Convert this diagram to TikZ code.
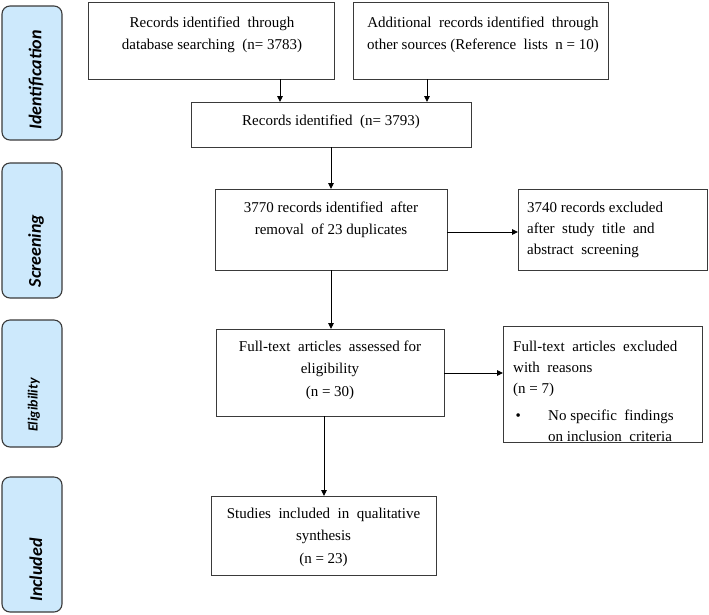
\documentclass[tikz,border=0pt]{standalone}
\usepackage{fontspec}
\setmainfont{Liberation Serif}
\newfontfamily\sidefont{Carlito}
\usetikzlibrary{arrows.meta}
\definecolor{sideblue}{HTML}{CDE9FC}
\definecolor{edgegray}{HTML}{3A3A3A}
\begin{document}
\begin{tikzpicture}[x=1pt,y=-1pt,
 box/.style={draw=edgegray, line width=1pt, inner sep=0pt, outer sep=0pt},
 sidebox/.style={draw=edgegray, line width=1.1pt, fill=sideblue, rounded corners=8pt, inner sep=0pt, outer sep=0pt},
 sidetext/.style={font=\sidefont\bfseries\itshape\fontsize{18}{20}\selectfont, rotate=90, inner sep=0pt},
 txt/.style={font=\fontsize{15}{22.5}\selectfont, inner sep=0pt, align=center},
 ltxt/.style={font=\fontsize{15}{21}\selectfont, inner sep=0pt, align=left},
 arr/.style={draw=black, line width=0.9pt, -{Triangle[length=6pt,width=5.5pt]}}]
\useasboundingbox (0,0) rectangle (709,614);

% side labels
\node[sidebox, minimum width=60pt, minimum height=134pt] (s1) at (32,73) {};
\node[sidetext] (s1t) at (36,80) {Identification};
\node[sidebox, minimum width=60pt, minimum height=135pt] (s2) at (32,230.5) {};
\node[sidetext] (s2t) at (36,251) {Screening};
\node[sidebox, minimum width=60pt, minimum height=127pt] (s3) at (32,383.5) {};
\node[sidetext, font=\sidefont\bfseries\itshape\fontsize{14}{16}\selectfont] (s3t) at (34,405) {Eligibility};
\node[sidebox, minimum width=60pt, minimum height=135pt] (s4) at (32,544.5) {};
\node[sidetext] (s4t) at (36,570) {Included};

% boxes
\node[box, minimum width=246pt, minimum height=77pt] (b1) at (211,40.5) {};
\node[txt] (t1) at (212,35) {Records identified \ through\\database searching \ (n= 3783)};
\node[box, minimum width=255pt, minimum height=77pt] (b2) at (480.5,40.5) {};
\node[txt] (t2) at (483,35) {Additional \ records identified \ through\\other sources (Reference \ lists \ n = 10)};
\node[box, minimum width=280pt, minimum height=45pt] (b3) at (331,124.5) {};
\node[txt] (t3) at (331,122) {Records identified \ (n= 3793)};
\node[box, minimum width=232pt, minimum height=81pt] (b4) at (331,229.5) {};
\node[txt] (t4) at (331,220) {3770 records identified \ after\\removal \ of 23 duplicates};
\node[box, minimum width=189pt, minimum height=81pt] (b5) at (612.5,229.5) {};
\node[ltxt, anchor=west] (t5) at (527,230) {3740 records excluded\\after \ study \ title \ and\\abstract \ screening};
\node[box, minimum width=228pt, minimum height=87pt] (b6) at (330,372.5) {};
\node[txt] (t6) at (330,370) {Full-text \ articles \ assessed for\\eligibility\\(n = 30)};
\node[box, minimum width=199pt, minimum height=116pt] (b7) at (602.5,384) {};
\node[ltxt, anchor=west] (t7) at (513,391.5) {Full-text \ articles \ excluded\\with \ reasons\\(n = 7)\\[6pt]\makebox[35pt][l]{\,•}No specific \ findings\\\hspace*{35pt}on inclusion \ criteria};
\node[box, minimum width=225pt, minimum height=79pt] (b8) at (323.5,535.5) {};
\node[txt] (t8) at (323.5,537) {Studies \ included \ in \ qualitative\\synthesis\\(n = 23)};

% connector positions
\coordinate (xa) at (280,0);
\coordinate (xb) at (427,0);
\coordinate (xc) at (331,0);
\coordinate (xd) at (324,0);
\coordinate (ya) at (0,232);
\coordinate (yb) at (0,373);

\draw[arr] (b1.south -| xa) -- (b3.north -| xa);
\draw[arr] (b2.south -| xb) -- (b3.north -| xb);
\draw[arr] (b3.south -| xc) -- (b4.north -| xc);
\draw[arr] (b4.east |- ya) -- (b5.west |- ya);
\draw[arr] (b4.south -| xc) -- (b6.north -| xc);
\draw[arr] (b6.east |- yb) -- (b7.west |- yb);
\draw[arr] (b6.south -| xd) -- (b8.north -| xd);
\end{tikzpicture}
\end{document}
